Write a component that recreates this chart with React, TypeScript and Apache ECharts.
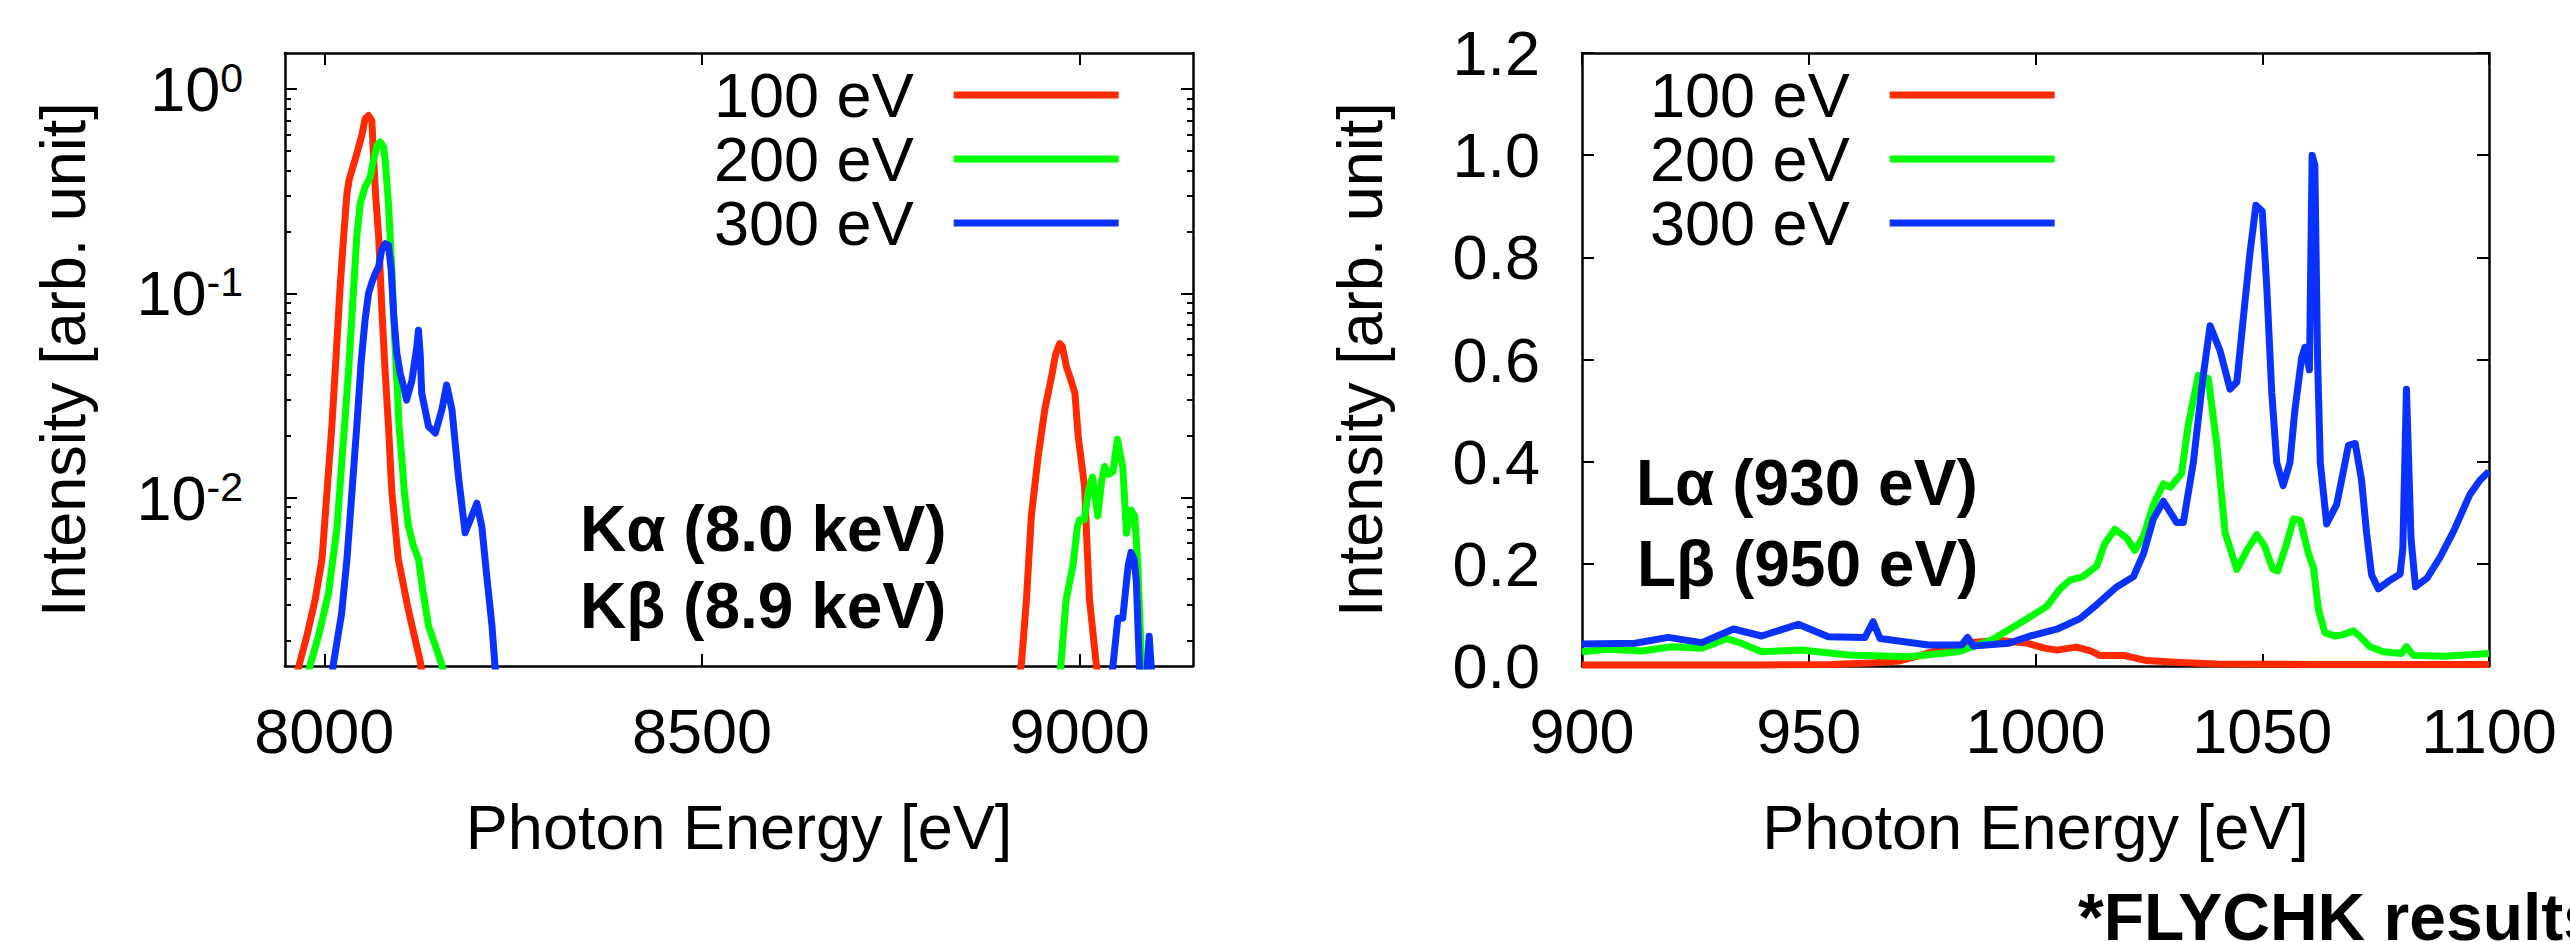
import React, { useEffect, useRef } from 'react';
import * as echarts from 'echarts';

// ---------- data ----------
const seriesNames = ['100 eV', '200 eV', '300 eV'];
const seriesColors = ['#ff2a00', '#00ff00', '#0a32ff'];

// K-shell panel (log scale) : [photon energy eV, intensity]
const kTickValues = [8000, 8500, 9000];
const kMajorIntensity = [0.01, 0.1, 1];
const kMinorIntensity = [
  0.002, 0.003, 0.004, 0.005, 0.006, 0.007, 0.008, 0.009,
  0.02, 0.03, 0.04, 0.05, 0.06, 0.07, 0.08, 0.09,
  0.2, 0.3, 0.4, 0.5, 0.6, 0.7, 0.8, 0.9,
];

const kAlpha100: [number, number][] = [
  [7960, 0.0012], [7967, 0.00153], [7977, 0.00211], [7988, 0.00318], [7997, 0.005],
  [8003.5, 0.0106], [8010, 0.0223], [8015, 0.045], [8021, 0.108], [8025.6, 0.189],
  [8030, 0.308], [8033, 0.36], [8036.6, 0.4], [8043, 0.482], [8050, 0.6], [8054, 0.714],
  [8058.6, 0.741], [8063, 0.7], [8065, 0.482], [8068, 0.3], [8072, 0.189], [8076, 0.0865],
  [8080.7, 0.0407], [8085, 0.0223], [8089.5, 0.0106], [8098, 0.005], [8111.5, 0.0028],
  [8127, 0.00158], [8132, 0.0012],
];
const kBeta100: [number, number][] = [
  [8918, 0.0012], [8923, 0.00156], [8929.5, 0.00316], [8936, 0.00813], [8945, 0.0159],
  [8953.8, 0.027], [8962.6, 0.0389], [8968, 0.05], [8973.6, 0.0568], [8977, 0.055],
  [8982.4, 0.0438], [8988, 0.038], [8993.7, 0.0324], [8998, 0.02], [9002, 0.0153],
  [9006.5, 0.0113], [9009, 0.00673], [9013, 0.00316], [9022, 0.00152], [9026, 0.0012],
];
const kAlpha200: [number, number][] = [
  [7975, 0.0012], [7981.5, 0.00153], [7992.5, 0.00211], [8005.7, 0.00342], [8017, 0.00723],
  [8023.4, 0.0153], [8030, 0.0324], [8032, 0.0407], [8039, 0.108], [8043, 0.189],
  [8047.6, 0.275], [8054, 0.331], [8061, 0.371], [8065, 0.447], [8069.7, 0.529],
  [8074, 0.55], [8078.4, 0.52], [8080.7, 0.447], [8085, 0.275], [8089.5, 0.13],
  [8093, 0.0614], [8095, 0.045], [8097, 0.0324], [8099, 0.0223], [8102.8, 0.0153],
  [8106, 0.0106], [8111.5, 0.00723], [8118, 0.0058], [8124.7, 0.005], [8131, 0.0034],
  [8138, 0.00236], [8155.7, 0.00152], [8160, 0.0012],
];
const kBeta200: [number, number][] = [
  [8971, 0.0012], [8975, 0.0015], [8982, 0.00316], [8991, 0.00463], [8997, 0.0072],
  [9000, 0.0078], [9006, 0.0078], [9012, 0.011], [9017, 0.0126], [9024, 0.00814],
  [9029, 0.012], [9033, 0.0142], [9038, 0.013], [9044, 0.0134], [9050, 0.0193],
  [9054, 0.016], [9057, 0.0142], [9062, 0.0067], [9066, 0.0082], [9068, 0.0087],
  [9073, 0.0081], [9077, 0.00463], [9082, 0.0015], [9085, 0.0012],
];
const kAlpha300: [number, number][] = [
  [8008, 0.0012], [8012, 0.00153], [8023, 0.00272], [8030, 0.005], [8036.6, 0.0106],
  [8043, 0.0223], [8049, 0.047], [8054, 0.0741], [8058.6, 0.1], [8063, 0.113],
  [8067.5, 0.125], [8072, 0.135], [8076, 0.163], [8080.7, 0.175], [8085, 0.172],
  [8088.6, 0.13], [8091.7, 0.08], [8096, 0.0511], [8100.5, 0.0405], [8105, 0.035],
  [8109, 0.03], [8116, 0.0375], [8122.6, 0.055], [8124.7, 0.066], [8127, 0.05],
  [8129, 0.0324], [8138, 0.0223], [8147, 0.0207], [8155.7, 0.027], [8162, 0.0356],
  [8169, 0.027], [8177.6, 0.0127], [8186.5, 0.00673], [8202, 0.00939], [8208.6, 0.0072],
  [8215, 0.00416], [8222, 0.00236], [8226, 0.0015], [8229, 0.0012],
];
const kBeta300: [number, number][] = [
  [9040, 0.0012], [9044, 0.0015], [9050.6, 0.00257], [9057, 0.00257], [9064, 0.0046],
  [9068, 0.0054], [9072, 0.005], [9075, 0.0039], [9079, 0.0015], [9081, 0.0011],
  [9087, 0.0011], [9092, 0.0021], [9097, 0.0011],
];

// L-shell panel (linear scale)
const lL100: [number, number][] = [
  [900, 0.002], [920, 0.002], [940, 0.002], [955, 0.003], [964.6, 0.0065], [970, 0.01],
  [975, 0.022], [980, 0.035], [986, 0.046], [992, 0.05], [998, 0.045], [1002, 0.035],
  [1004.7, 0.031], [1009, 0.037], [1012, 0.03], [1014.2, 0.0207], [1019.4, 0.0207],
  [1024.5, 0.0106], [1031.9, 0.007], [1040, 0.004], [1060, 0.003], [1080, 0.003], [1100, 0.003],
];
const lL200: [number, number][] = [
  [900, 0.028], [905.8, 0.0326], [913.2, 0.0293], [919.8, 0.0378], [926.4, 0.0346],
  [931.9, 0.0535], [935, 0.045], [939.6, 0.028], [948.4, 0.0313], [958.7, 0.0215],
  [972, 0.0183], [983, 0.028], [990.3, 0.0509], [997.7, 0.09], [1002.5, 0.1167],
  [1005.4, 0.151], [1007.6, 0.168], [1010.5, 0.175], [1013.5, 0.1956], [1015.3, 0.24],
  [1017.5, 0.2676], [1020.1, 0.2506], [1021.9, 0.2265], [1023.8, 0.254], [1026, 0.3156],
  [1028.2, 0.3567], [1029.7, 0.35], [1032.2, 0.377], [1033.7, 0.473], [1035.9, 0.569],
  [1038.1, 0.5625], [1040, 0.432], [1041.8, 0.261], [1044.4, 0.189], [1046.6, 0.2265],
  [1048.8, 0.257], [1050.5, 0.235], [1052.3, 0.19], [1053.4, 0.186], [1055.4, 0.24],
  [1056.9, 0.288], [1058.4, 0.285], [1060.2, 0.2197], [1061.3, 0.192], [1062.4, 0.11],
  [1063.8, 0.0654], [1066, 0.0585], [1067.7, 0.061], [1070.1, 0.0687], [1071.5, 0.0585],
  [1073.7, 0.038], [1076.7, 0.0277], [1080.7, 0.0243], [1081.8, 0.038], [1083.3, 0.0208],
  [1090, 0.019], [1100, 0.0243],
];
const lL300: [number, number][] = [
  [900, 0.043], [911.7, 0.0444], [919, 0.056], [926.4, 0.0457], [933.4, 0.0724],
  [939.6, 0.0587], [947.7, 0.0816], [954.3, 0.0574], [962.4, 0.056], [964.2, 0.0867],
  [965.7, 0.054], [976.4, 0.041], [983.7, 0.041], [985, 0.056], [986.3, 0.039],
  [994, 0.0444], [998.8, 0.0587], [1004.7, 0.072], [1009.8, 0.0928], [1013.5, 0.12],
  [1017.9, 0.1547], [1021.6, 0.175], [1023.8, 0.2197], [1026, 0.288], [1028.2, 0.3225],
  [1031.1, 0.281], [1032.6, 0.281], [1034.8, 0.398], [1037, 0.569], [1038.5, 0.666],
  [1040.7, 0.617], [1042.9, 0.542], [1044.4, 0.556], [1045.8, 0.679], [1047.3, 0.809],
  [1048.6, 0.902], [1050, 0.89], [1051, 0.741], [1052.1, 0.535], [1053.2, 0.398],
  [1054.6, 0.353], [1056.1, 0.398], [1057.2, 0.501], [1058.7, 0.604], [1059.4, 0.624],
  [1060.4, 0.58], [1061, 1.0], [1061.6, 0.98], [1062.2, 0.6], [1062.8, 0.398],
  [1064.2, 0.278], [1066.4, 0.316], [1067.5, 0.364], [1069, 0.432], [1070.5, 0.4356],
  [1071.9, 0.364], [1073, 0.261], [1074.1, 0.1786], [1075.6, 0.151], [1078.2, 0.168],
  [1080.4, 0.18], [1081, 0.23], [1081.8, 0.542], [1082.8, 0.25], [1083.8, 0.155],
  [1086.3, 0.1717], [1089.2, 0.2128], [1092.2, 0.264], [1095.8, 0.336], [1098, 0.3635],
  [1100, 0.381],
];

const kAnnotations = ['Kα (8.0 keV)', 'Kβ (8.9 keV)'];
const lAnnotations = ['Lα (930 eV)', 'Lβ (950 eV)'];
const footnote = '*FLYCHK results';
const xName = 'Photon Energy [eV]';
const yName = 'Intensity [arb. unit]';

// ---------- styling ----------
const FONT = 'Liberation Sans';
const FS = 63;
const BLACK = '#000';
const LW = 7;

function joinGap(a: [number, number][], b: [number, number][]) {
  return [...a, [a[a.length - 1][0] + 1, null], ...b];
}

export default function App() {
  const ref = useRef<HTMLDivElement>(null);

  useEffect(() => {
    document.body.style.margin = '0';
    if (!ref.current) return;
    const chart = echarts.init(ref.current, undefined, { renderer: 'svg' });

    const axisLine = { show: true, onZero: false, lineStyle: { color: BLACK, width: 2.5 } };
    const tickLine = { color: BLACK, width: 2 };
    const labelBase = { fontSize: FS, fontFamily: FONT, color: BLACK, lineHeight: 63 };
    const nameStyle = { fontSize: FS, fontFamily: FONT, color: BLACK, lineHeight: 63 };

    const kMin = 0.0015, kMax = 1.5;
    const kXMin = 7948, kXMax = 9150;

    const logAxis = (pos: string, major: boolean, labels: boolean, withName: boolean) => ({
      gridIndex: 0,
      type: 'log',
      logBase: 10,
      min: kMin,
      max: kMax,
      position: pos,
      axisLine: major ? axisLine : { show: false },
      axisTick: {
        show: true,
        inside: true,
        length: major ? 12 : 6,
        customValues: major ? kMajorIntensity : kMinorIntensity,
        lineStyle: tickLine,
      },
      axisLabel: labels
        ? {
            show: true,
            customValues: kMajorIntensity,
            margin: 42,
            formatter: (v: number) => `{b|10}{s|${Math.round(Math.log10(v))}}`,
            rich: {
              b: { fontSize: FS, fontFamily: FONT, color: BLACK, lineHeight: 63, verticalAlign: 'bottom' },
              s: { fontSize: 41, fontFamily: FONT, color: BLACK, lineHeight: 41, padding: [0, 0, 35, 0], verticalAlign: 'top' },
            },
          }
        : { show: false },
      splitLine: { show: false },
      name: withName ? yName : '',
      nameLocation: 'middle',
      nameRotate: 90,
      nameGap: 191,
      nameTextStyle: nameStyle,
    });

    const seriesK = [
      joinGap(kAlpha100, kBeta100),
      joinGap(kAlpha200, kBeta200),
      joinGap(kAlpha300, kBeta300),
    ];
    const seriesL = [lL100, lL200, lL300];

    const mkSeries = (data: any[], i: number, xi: number, yi: number) => ({
      type: 'line',
      name: seriesNames[i],
      xAxisIndex: xi,
      yAxisIndex: yi,
      data,
      showSymbol: false,
      symbol: 'none',
      clip: true,
      lineStyle: { color: seriesColors[i], width: LW, join: 'round' },
      itemStyle: { color: seriesColors[i], borderWidth: 0 },
      connectNulls: false,
      z: 3,
    });

    const legendBase = {
      orient: 'vertical',
      align: 'right',
      top: 63,
      padding: 0,
      itemGap: 0,
      itemWidth: 165,
      itemHeight: LW,
      icon: 'rect',
      selectedMode: false,
      data: seriesNames,
      itemStyle: { borderWidth: 0 },
      textStyle: { fontSize: FS, fontFamily: FONT, color: BLACK, lineHeight: 64, padding: [0, 35, 0, 0] },
    };

    const textEl = (text: string, x: number, y: number, size: number) => ({
      type: 'text',
      x,
      y,
      style: {
        text,
        fontSize: size,
        fontFamily: FONT,
        fontWeight: 'bold',
        fill: BLACK,
        align: 'left',
        verticalAlign: 'middle',
      },
      z: 10,
    });

    const option: any = {
      animation: false,
      backgroundColor: '#fff',
      grid: [
        { left: 285, top: 53, width: 908, height: 613, containLabel: false, outerBoundsMode: 'none' },
        { left: 1582, top: 53, width: 907, height: 613, containLabel: false, outerBoundsMode: 'none' },
      ],
      legend: [
        { ...legendBase, left: 714 },
        { ...legendBase, left: 1650 },
      ],
      xAxis: [
        {
          gridIndex: 0, type: 'value', min: kXMin, max: kXMax, position: 'bottom',
          axisLine,
          axisTick: { show: true, inside: true, length: 12, customValues: kTickValues, lineStyle: tickLine },
          axisLabel: { ...labelBase, customValues: kTickValues, margin: 33, formatter: (v: number) => String(v) },
          splitLine: { show: false },
          name: xName, nameLocation: 'middle', nameGap: 129, nameTextStyle: nameStyle,
        },
        {
          gridIndex: 0, type: 'value', min: kXMin, max: kXMax, position: 'top',
          axisLine,
          axisTick: { show: true, inside: true, length: 12, customValues: kTickValues, lineStyle: tickLine },
          axisLabel: { show: false },
          splitLine: { show: false },
        },
        {
          gridIndex: 1, type: 'value', min: 900, max: 1100, interval: 50, position: 'bottom',
          axisLine,
          axisTick: { show: true, inside: true, length: 12, lineStyle: tickLine },
          axisLabel: { ...labelBase, margin: 33, showMinLabel: true, showMaxLabel: true, hideOverlap: false, formatter: (v: number) => String(v) },
          splitLine: { show: false },
          name: xName, nameLocation: 'middle', nameGap: 129, nameTextStyle: nameStyle,
        },
        {
          gridIndex: 1, type: 'value', min: 900, max: 1100, interval: 50, position: 'top',
          axisLine,
          axisTick: { show: true, inside: true, length: 12, lineStyle: tickLine },
          axisLabel: { show: false },
          splitLine: { show: false },
        },
      ],
      yAxis: [
        logAxis('left', true, true, true),
        logAxis('left', false, false, false),
        logAxis('right', true, false, false),
        logAxis('right', false, false, false),
        {
          gridIndex: 1, type: 'value', min: 0, max: 1.2, interval: 0.2, position: 'left',
          axisLine,
          axisTick: { show: true, inside: true, length: 12, lineStyle: tickLine },
          axisLabel: { ...labelBase, margin: 42, showMinLabel: true, showMaxLabel: true, formatter: (v: number) => v.toFixed(1) },
          splitLine: { show: false },
          name: yName, nameLocation: 'middle', nameRotate: 90, nameGap: 191, nameTextStyle: nameStyle,
        },
        {
          gridIndex: 1, type: 'value', min: 0, max: 1.2, interval: 0.2, position: 'right',
          axisLine,
          axisTick: { show: true, inside: true, length: 12, lineStyle: tickLine },
          axisLabel: { show: false },
          splitLine: { show: false },
        },
      ],
      series: [
        ...seriesK.map((d, i) => mkSeries(d, i, 0, 0)),
        ...seriesL.map((d, i) => mkSeries(d, i, 2, 4)),
      ],
      graphic: [
        textEl(kAnnotations[0], 580, 529, 64),
        textEl(kAnnotations[1], 580, 606, 64),
        textEl(lAnnotations[0], 1636, 483, 64),
        textEl(lAnnotations[1], 1637, 564, 64),
        textEl(footnote, 2078, 917, 66),
      ],
    };

    chart.setOption(option);
    return () => chart.dispose();
  }, []);

  return <div ref={ref} style={{ width: 2570, height: 942, overflow: 'hidden' }} />;
}
